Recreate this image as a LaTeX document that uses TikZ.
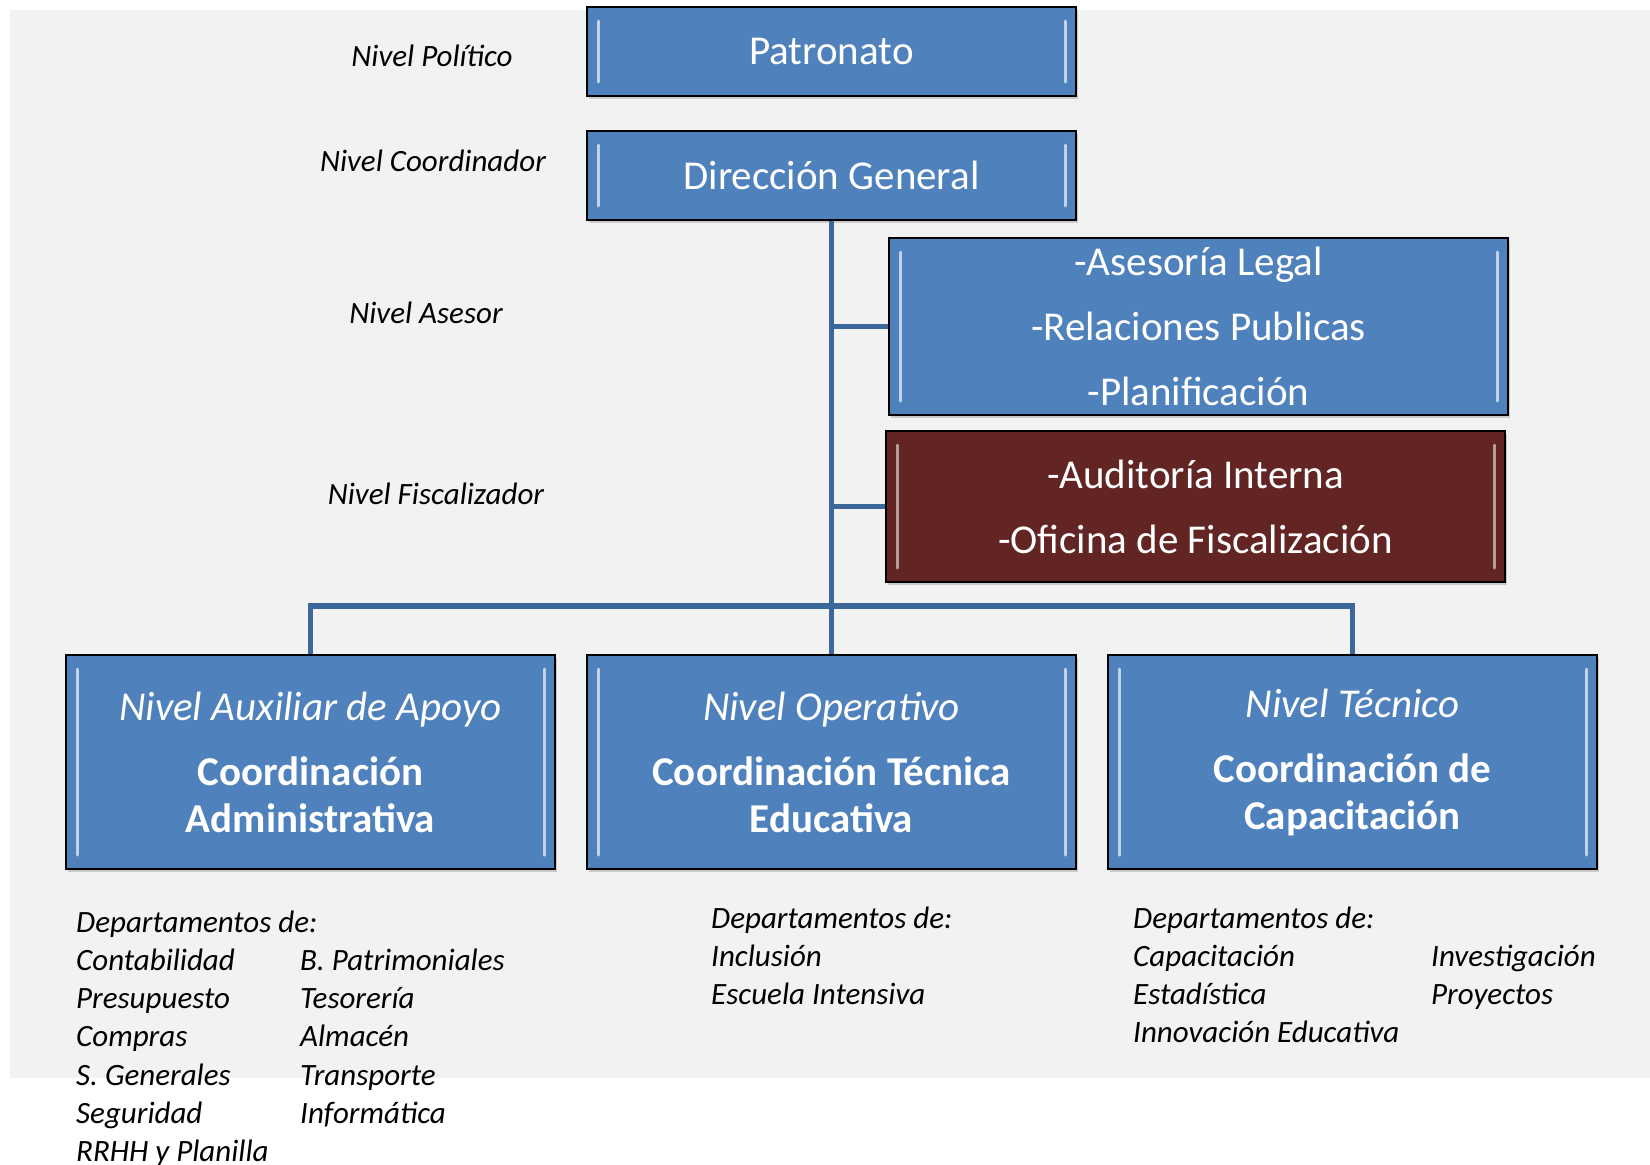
\documentclass[tikz,border=0pt]{standalone}
\usepackage{fontspec}
\setmainfont{Carlito}
\usetikzlibrary{positioning, shadows}

\definecolor{boxblue}{HTML}{4F81BD}
\definecolor{boxred}{HTML}{632523}
\definecolor{linkblue}{HTML}{3C679A}
\definecolor{bggray}{HTML}{F2F2F2}

\begin{document}
\begin{tikzpicture}[
    x=1pt, y=-1pt,
    bevel/.code={\colorlet{bevelcol}{#1}},
    box/.style={rectangle, draw=black, line width=2pt, fill=boxblue, text=white, align=center,
        bevel=white!65!boxblue,
        font=\fontsize{41}{47}\selectfont,
        drop shadow={shadow xshift=2pt, shadow yshift=-3pt, opacity=0.35},
        path picture={
            \draw[bevelcol, line width=3pt, line cap=round]
              ([xshift=11pt,yshift=-14pt]path picture bounding box.north west) -- ([xshift=11pt,yshift=14pt]path picture bounding box.south west)
              ([xshift=-11pt,yshift=-14pt]path picture bounding box.north east) -- ([xshift=-11pt,yshift=14pt]path picture bounding box.south east);
        }},
    alarmbox/.style={box, fill=boxred, bevel=white!55!boxred},
    level/.style={font=\fontsize{31}{37}\selectfont\itshape},
    dept/.style={anchor=base west, inner sep=0pt, font=\fontsize{31}{38.3}\selectfont\itshape},
    link/.style={draw=linkblue, line width=5.5pt}
]

\useasboundingbox (0,0) rectangle (1650,1165);
\fill[bggray] (10,10) rectangle (1650,1078);

% Top levels
\node[box, minimum width=489pt, minimum height=89pt] (pat) at (831.5,51.5) {Patronato};
\node[box, minimum width=489pt, minimum height=89pt] (dir) at (831.5,175.5) {Dirección General};

\node[box, minimum width=619pt, minimum height=177pt, font=\fontsize{41}{65}\selectfont] (ase) at (1198.5,326.5)
    {-Asesoría Legal\\-Relaciones Publicas\\-Planificación};
\node[alarmbox, minimum width=619pt, minimum height=151pt, font=\fontsize{41}{65}\selectfont] (fis) at (1195.5,506.5)
    {-Auditoría Interna\\-Oficina de Fiscalización};

% Level names
\node[level] (lpol) at (432,56) {Nivel Político};
\node[level] (lcoo) at (433,161) {Nivel Coordinador};
\node[level] (lase) at (426,313) {Nivel Asesor};
\node[level] (lfis) at (436,494) {Nivel Fiscalizador};

% Bottom layer - three boxes
\node[box, minimum width=489pt, minimum height=214pt] (ope) at (831.5,762)
    {\textit{Nivel Operativo}\\[18pt]\textbf{Coordinación Técnica}\\\textbf{Educativa}};
\node[box, minimum width=489pt, minimum height=214pt, left=30pt of ope] (aux)
    {\textit{Nivel Auxiliar de Apoyo}\\[18pt]\textbf{Coordinación}\\\textbf{Administrativa}};
\node[box, minimum width=489pt, minimum height=214pt, right=30pt of ope] (tec)
    {\textit{Nivel Técnico}\\[18pt]\textbf{Coordinación de}\\\textbf{Capacitación}};

% Connectors
\coordinate (bus) at (831.5,606);
\draw[link] (dir.south) -- (ope.north);
\draw[link] (dir.south |- ase.west) -- (ase.west);
\draw[link] (dir.south |- fis.west) -- (fis.west);
\draw[link] (aux.north) |- (bus) -| (tec.north);

% Departments
\node[dept] (dadm) at (76,932) {\begin{tabular}[t]{@{}p{224pt}@{}l@{}}
    \multicolumn{2}{@{}l@{}}{Departamentos de:}\\
    Contabilidad & B. Patrimoniales\\
    Presupuesto & Tesorería\\
    Compras & Almacén\\
    S. Generales & Transporte\\
    Seguridad & Informática\\
    RRHH y Planilla &
  \end{tabular}};
\node[dept] (dope) at (711,928) {\begin{tabular}[t]{@{}l@{}}
    Departamentos de:\\
    Inclusión\\
    Escuela Intensiva
  \end{tabular}};
\node[dept] (dtec) at (1133,928) {\begin{tabular}[t]{@{}p{298pt}@{}l@{}}
    \multicolumn{2}{@{}l@{}}{Departamentos de:}\\
    Capacitación & Investigación\\
    Estadística & Proyectos\\
    Innovación Educativa &
  \end{tabular}};

\end{tikzpicture}
\end{document}
